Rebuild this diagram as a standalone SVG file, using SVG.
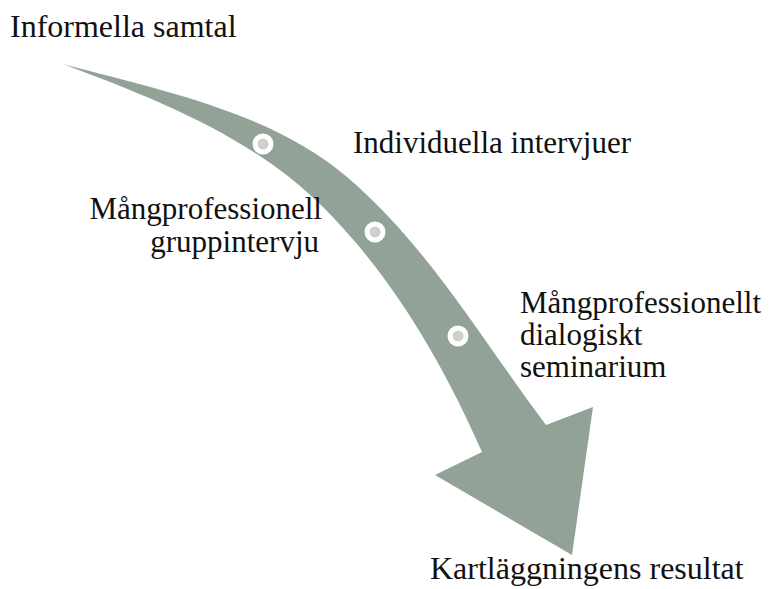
<svg xmlns="http://www.w3.org/2000/svg" width="770" height="589" viewBox="0 0 770 589">
  <style>
    text { font-family: 'Liberation Serif', 'Times New Roman', serif; font-size: 31px; fill: #111111; }
    .big { font-size: 32px; }
    .band { fill: #92a297; }
    .ring { fill: #ffffff; }
    .dot { fill: #cdd1cd; }
  </style>
  <rect width="770" height="589" fill="#ffffff"/>
  <g id="connectors">
    <path id="arrow" class="band" d="M63,64 C160,90 271,112 347,177 C428,246 482,340 546,425 L593,407 L572,555 L435,475 L482,452 C443,363 392,276 323,207 C253,137 156,99 63,64 Z"/>
  </g>
  <g id="node-informella">
    <text class="big" x="10" y="37">Informella samtal</text>
  </g>
  <g id="node-individuella">
    <circle class="ring" cx="263" cy="144" r="10.5"/>
    <circle class="dot" cx="263" cy="144" r="5.5"/>
    <text x="353" y="153">Individuella intervjuer</text>
  </g>
  <g id="node-grupp">
    <circle class="ring" cx="375" cy="232" r="10.5"/>
    <circle class="dot" cx="375" cy="232" r="5.5"/>
    <text text-anchor="end" x="322" y="219">Mångprofessionell</text>
    <text text-anchor="end" x="319" y="252">gruppintervju</text>
  </g>
  <g id="node-seminarium">
    <circle class="ring" cx="458" cy="336" r="10.5"/>
    <circle class="dot" cx="458" cy="336" r="5.5"/>
    <text x="520" y="313">Mångprofessionellt</text>
    <text x="520" y="345">dialogiskt</text>
    <text x="520" y="377">seminarium</text>
  </g>
  <g id="node-resultat">
    <text class="big" x="430" y="579">Kartläggningens resultat</text>
  </g>
</svg>
